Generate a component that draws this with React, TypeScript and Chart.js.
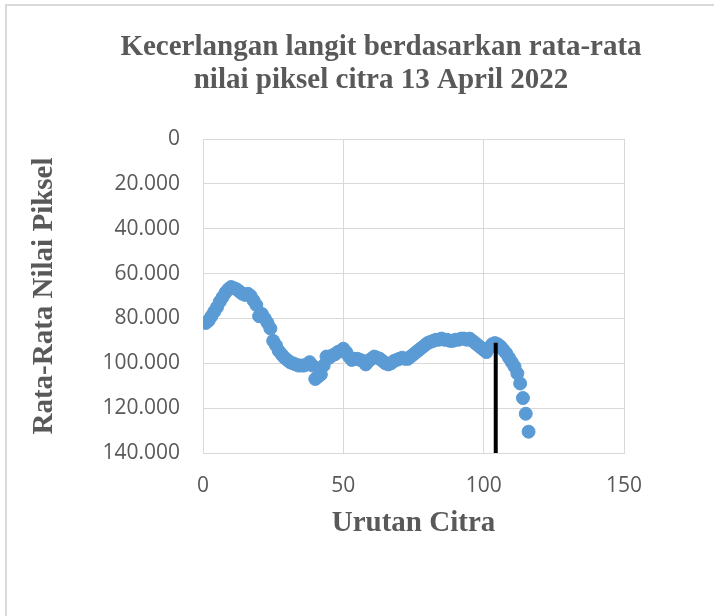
import React, { useEffect, useRef } from "react";
import { Chart, registerables } from "chart.js";

Chart.register(...registerables);

const chartTitle = ["Kecerlangan langit berdasarkan rata-rata", "nilai piksel citra 13 April 2022"];
const xAxisTitle = "Urutan Citra";
const yAxisTitle = "Rata-Rata Nilai Piksel";

const imageOrder = [
  1, 2, 3, 4, 5, 6, 7, 8, 9, 10,
  11, 12, 13, 14, 15, 16, 17, 18, 19, 20,
  21, 22, 23, 24, 25, 26, 27, 28, 29, 30,
  31, 32, 33, 34, 35, 36, 37, 38, 39, 40,
  41, 42, 43, 44, 45, 46, 47, 48, 49, 50,
  51, 52, 53, 54, 55, 56, 57, 58, 59, 60,
  61, 62, 63, 64, 65, 66, 67, 68, 69, 70,
  71, 72, 73, 74, 75, 76, 77, 78, 79, 80,
  81, 82, 83, 84, 85, 86, 87, 88, 89, 90,
  91, 92, 93, 94, 95, 96, 97, 98, 99, 100,
  101, 102, 103, 104, 105, 106, 107, 108, 109, 110,
  111, 112, 113, 114, 115, 116,
];

const meanPixel = [
  82, 81, 79, 77, 75, 72.5, 70.5, 68.5, 67, 66,
  66.5, 67, 68, 69, 69.5, 69, 70, 72, 74, 79,
  78, 80, 82, 84.5, 90, 92, 94.5, 96, 97.5, 98.5,
  99.5, 100, 100.5, 101, 101, 101, 100.5, 99.5, 101, 107,
  106, 105, 101, 97, 97.5, 96.5, 96, 95, 94.5, 93.5,
  95, 97, 98.5, 98, 98, 98.5, 99, 100.5, 99, 98,
  97, 97.5, 98, 99, 100, 100.5, 100, 99, 98.5, 98,
  97.5, 98, 98, 97, 96, 95, 94, 93, 92, 91,
  90.5, 90, 89.5, 89.5, 89, 89.5, 89.5, 90, 90, 89.5,
  89.5, 89, 89, 89.5, 89, 90, 91, 92, 93, 94,
  95, 93, 91.5, 91, 91.5, 92.5, 94, 95.5, 97.5, 99.5,
  101.5, 104.5, 109, 115.5, 122.5, 130.5,
];

const markerX = [104.3, 104.3];
const markerY = [90.8, 140];

const yTickValues = [0, 20, 40, 60, 80, 100, 120, 140];
const yTickLabels = ["0", "20.000", "40.000", "60.000", "80.000", "100.000", "120.000", "140.000"];
const xTickValues = [0, 50, 100, 150];
const xTickLabels = ["0", "50", "100", "150"];

const TEXT = "#595959";
const GRID = "#d9d9d9";
const BLUE = "#5b9bd5";
const SERIF = "'Liberation Serif', 'Times New Roman', serif";
const SANS = "'Open Sans', sans-serif";

const labelFor = (values: number[], labels: string[]) => (v: any) => {
  const i = values.indexOf(Number(v));
  return i >= 0 ? labels[i] : "";
};

export default function App() {
  const ref = useRef<HTMLCanvasElement | null>(null);

  useEffect(() => {
    if (!ref.current) return;
    const points = imageOrder.map((x, i) => ({ x, y: meanPixel[i] }));
    const marker = markerX.map((x, i) => ({ x, y: markerY[i] }));
    const chart = new Chart(ref.current, {
      type: "scatter",
      data: {
        datasets: [
          {
            data: marker,
            showLine: true,
            borderColor: "#000000",
            borderWidth: 4,
            pointRadius: 0,
            pointHoverRadius: 0,
            order: 0,
          },
          {
            data: points,
            backgroundColor: BLUE,
            borderColor: BLUE,
            borderWidth: 1,
            pointRadius: 6.5,
            pointHoverRadius: 6.5,
            order: 1,
          },
        ],
      },
      options: {
        responsive: false,
        animation: false,
        devicePixelRatio: 1,
        layout: { padding: 0 },
        plugins: {
          legend: { display: false },
          tooltip: { enabled: false },
          title: {
            display: true,
            text: chartTitle,
            color: TEXT,
            font: { family: SERIF, size: 29, weight: "bold", lineHeight: 32.6 / 29 },
            padding: { top: 31.7, bottom: 42.1 },
          },
        },
        scales: {
          x: {
            type: "linear",
            min: 0,
            max: 150,
            afterFit: (s: any) => {
              s.height = 163;
            },
            ticks: {
              stepSize: 50,
              color: TEXT,
              padding: 20,
              font: { family: SANS, size: 21 },
              callback: labelFor(xTickValues, xTickLabels),
            },
            grid: { color: GRID, lineWidth: 1, drawTicks: false },
            border: { color: GRID, width: 1 },
            title: {
              display: true,
              text: xAxisTitle,
              color: TEXT,
              font: { family: SERIF, size: 29, weight: "bold" },
              padding: { top: 0, bottom: 74.6 },
            },
          },
          y: {
            type: "linear",
            min: 0,
            max: 140,
            reverse: true,
            afterFit: (s: any) => {
              s.width = 203;
            },
            ticks: {
              stepSize: 20,
              color: TEXT,
              padding: 23,
              font: { family: SANS, size: 21 },
              callback: labelFor(yTickValues, yTickLabels),
            },
            grid: { color: GRID, lineWidth: 1, drawTicks: false },
            border: { color: GRID, width: 1 },
            title: {
              display: true,
              text: yAxisTitle,
              color: TEXT,
              font: { family: SERIF, size: 29, weight: "bold" },
              padding: { top: 27.4, bottom: 0 },
            },
          },
          spacer: {
            type: "linear",
            position: "right",
            min: 0,
            max: 1,
            afterFit: (s: any) => {
              s.width = 138;
            },
            ticks: { display: false },
            grid: { display: false, drawTicks: false },
            border: { display: false },
            title: { display: false },
          },
        },
      },
    });
    return () => chart.destroy();
  }, []);

  return (
    <div style={{ position: "fixed", left: 0, top: 0, width: 714, height: 616, overflow: "hidden", background: "#ffffff" }}>
      <div
        style={{
          position: "absolute",
          left: 5,
          top: 4,
          width: 800,
          height: 700,
          border: `2px solid ${GRID}`,
          boxSizing: "border-box",
        }}
      />
      <canvas
        ref={ref}
        width={762}
        height={616}
        style={{ position: "absolute", left: 0, top: 0, width: 762, height: 616 }}
      />
    </div>
  );
}
